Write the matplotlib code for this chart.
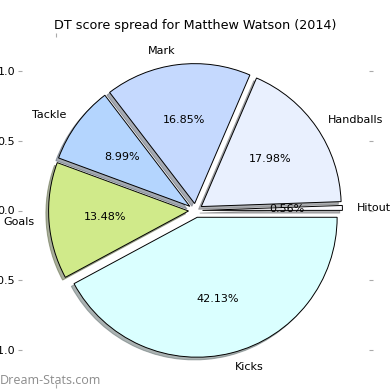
import matplotlib
matplotlib.use("Agg")
import matplotlib.pyplot as plt

labels = ['Hitout', 'Handballs', 'Mark', 'Tackle', 'Goals', 'Kicks']
points = [1, 32, 30, 16, 24, 75]
colors = ['#fbfbff', '#e9f0fe', '#c5d9fe', '#b4d5fe', '#d0ea8a', '#daffff']
explode = [0.05] * len(points)

fig = plt.figure(figsize=(3.9, 3.9), dpi=100)
ax = fig.add_axes([22 / 390, 5 / 390, 347 / 390, 349 / 390])

wedges, texts, autotexts = ax.pie(points, labels=labels, colors=colors, explode=explode,
                                  autopct='%1.2f%%', startangle=0,
                                  shadow={'ox': -0.014, 'oy': -0.014, 'shade': 0.6},
                                  wedgeprops=dict(edgecolor='black', linewidth=0.7),
                                  textprops=dict(fontsize=8))
ax.set_xlim(-1.24, 1.24)
ax.set_ylim(-1.24, 1.24)
ax.set_aspect('equal')
for s in ax.spines.values():
    s.set_visible(False)

ax.set_xticks([-1.0])
ax.set_xticklabels(['-1.0'])
ax.set_yticks([-1.0, -0.5, 0.0, 0.5, 1.0])
ax.set_yticklabels(['-1.0', '-0.5', '0.0', '0.5', '1.0'])
ax.tick_params(axis='both', which='both', color='#aaaaaa', length=3, labelsize=8, pad=2,
               top=True, bottom=True, left=True, right=True)

fig.text(195 / 390, 1 - 25 / 390, 'DT score spread for Matthew Watson (2014)',
         ha='center', va='center', fontsize=9.2)
fig.text(0.0, 1 - 380 / 390, 'Dream-Stats.com', ha='left', va='center',
         fontsize=9, color='#8c8c8c', family='Open Sans')

fig.savefig('out.png', dpi=100)
